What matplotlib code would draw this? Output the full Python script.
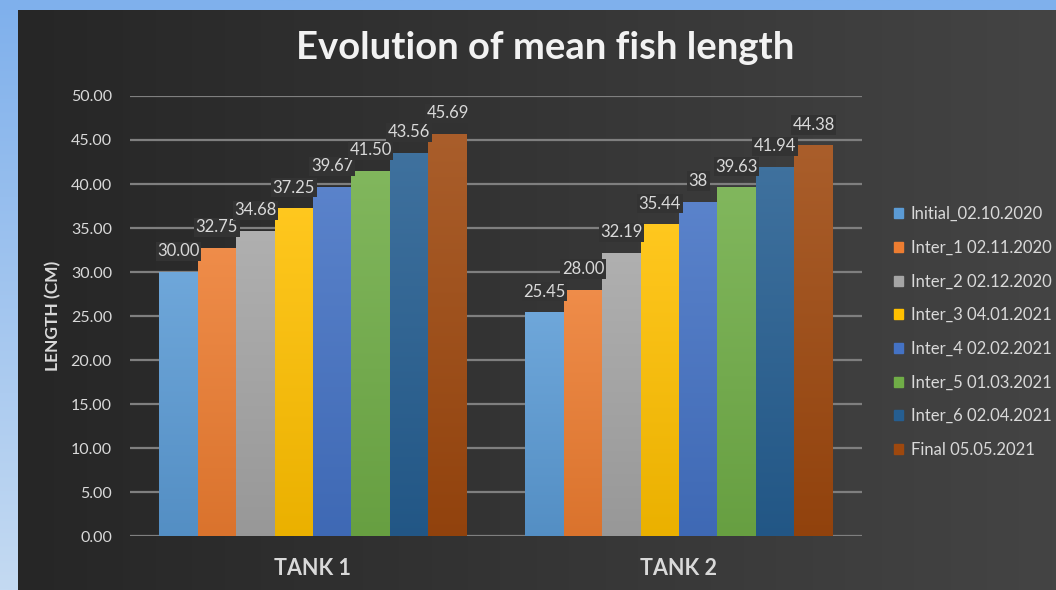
import numpy as np
import matplotlib
matplotlib.use("Agg")
import matplotlib.pyplot as plt
from matplotlib.colors import to_rgb
from matplotlib.patches import Patch

# ================================================================
# DONNÉES
# ================================================================
TANKS = ["TANK 1", "TANK 2"]
SERIES = ["Initial_02.10.2020", "Inter_1 02.11.2020", "Inter_2 02.12.2020",
          "Inter_3 04.01.2021", "Inter_4 02.02.2021", "Inter_5 01.03.2021",
          "Inter_6 02.04.2021", "Final 05.05.2021"]
TANK1 = [30.00, 32.75, 34.68, 37.25, 39.67, 41.50, 43.56, 45.69]
TANK2 = [25.45, 28.00, 32.19, 35.44, 38.00, 39.63, 41.94, 44.38]
LABELS1 = ["30.00", "32.75", "34.68", "37.25", "39.67", "41.50", "43.56", "45.69"]
LABELS2 = ["25.45", "28.00", "32.19", "35.44", "38", "39.63", "41.94", "44.38"]
COLORS = ["#5B9BD5", "#ED7D31", "#A5A5A5", "#FFC000",
          "#4472C4", "#70AD47", "#255E91", "#9E480E"]
YTICKS = np.arange(0, 50.01, 5)

plt.rcParams['font.family'] = ['Lato', 'DejaVu Sans']
TXT = "#D9D9D9"

fig = plt.figure(figsize=(10.56, 5.90), dpi=100)

# --- fond bleu + panneau sombre ---
bg = fig.add_axes([0, 0, 1, 1], zorder=-3)
g = np.linspace(0, 1, 256)[:, None]
blue = np.array(to_rgb("#7FB0EC")) * (1 - g[..., None]) + np.array(to_rgb("#C4DAF2")) * g[..., None]
bg.imshow(np.repeat(blue, 2, axis=1), aspect='auto', extent=[0, 1, 0, 1], origin='upper')
bg.set_axis_off()

panel = fig.add_axes([18 / 1056, 0, 1 - 18 / 1056, 1 - 10 / 590], zorder=-2)
h = np.linspace(0, 1, 256)[None, :]
dark = np.array(to_rgb("#262626")) * (1 - h[..., None]) + np.array(to_rgb("#444444")) * h[..., None]
panel.imshow(np.repeat(dark, 2, axis=0), aspect='auto', extent=[0, 1, 0, 1])
panel.set_axis_off()

# ================================================================
# GRAPHIQUE
# ================================================================
ax = fig.add_axes([130 / 1056, 54 / 590, 732 / 1056, 440 / 590])
ax.set_facecolor("none")

x = np.arange(len(TANKS))
w = 0.84 / len(SERIES)
handles = []
for i, (name, col) in enumerate(zip(SERIES, COLORS)):
    vals = [TANK1[i], TANK2[i]]
    labs = [LABELS1[i], LABELS2[i]]
    pos = x + (i - (len(SERIES) - 1) / 2) * w
    bars = ax.bar(pos, vals, width=w, color=col, zorder=2)
    # léger dégradé vertical sur chaque barre
    base = np.array(to_rgb(col))
    top = base + (1 - base) * 0.12
    bot = base * 0.92
    grad = top * (1 - g[..., None]) + bot * g[..., None]
    for b in bars:
        im = ax.imshow(np.repeat(grad, 2, axis=1), aspect='auto', zorder=2.1,
                       extent=[b.get_x(), b.get_x() + b.get_width(), 0, b.get_height()])
        im.set_clip_path(b)
    for p, v, l in zip(pos, vals, labs):
        ax.annotate(l, (p, v), xytext=(0, 9), textcoords='offset points',
                    ha='center', va='bottom', color=TXT, fontsize=12, zorder=4,
                    bbox=dict(boxstyle='square,pad=0.1', fc='#333333', ec='none'))
    handles.append(Patch(color=col, label=name))

ax.set_xlim(-0.5, 1.5)
ax.set_ylim(0, 50)
ax.set_yticks(YTICKS)
ax.set_yticklabels([f"{t:.2f}" for t in YTICKS], color=TXT, fontsize=11.5)
ax.set_xticks(x)
ax.set_xticklabels(TANKS, color=TXT, fontsize=15.5, fontweight='bold')
ax.tick_params(axis='y', length=0, pad=13)
ax.tick_params(axis='x', length=0, pad=16)
ax.grid(axis='y', color='#7F7F7F', lw=1.6, zorder=1)
for s in ax.spines.values():
    s.set_visible(False)
ax.set_ylabel("LENGTH (CM)", color=TXT, fontsize=12.5, fontweight='bold')
ax.yaxis.set_label_coords(-0.094, 0.5)

fig.text(545 / 1056, 1 - 48 / 590, "Evolution of mean fish length", ha='center', va='center',
         color='#F2F2F2', fontsize=27.5, fontweight='bold')

fig.legend(handles=handles, loc='center left', bbox_to_anchor=(879 / 1056, 1 - 332 / 590),
           frameon=False, fontsize=12, labelcolor=TXT, handlelength=0.55, handleheight=0.55,
           handletextpad=0.45, labelspacing=1.06)

plt.savefig("out.png", dpi=100)
